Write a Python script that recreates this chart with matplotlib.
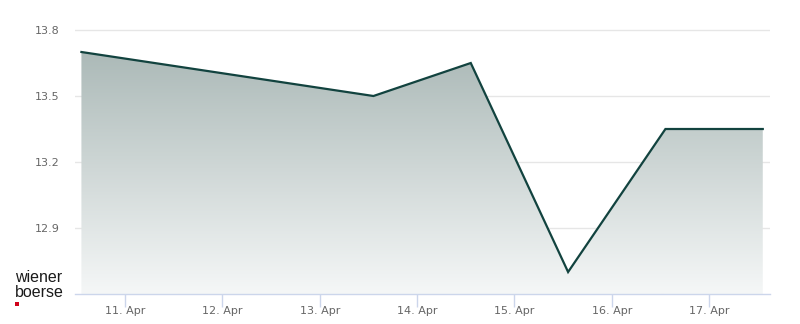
import numpy as np
import pandas as pd
import matplotlib
matplotlib.use("Agg")
import matplotlib.pyplot as plt
import matplotlib.dates as mdates
from matplotlib.patches import Polygon, Rectangle

# Data
dates = pd.to_datetime(["2024-04-10 13:15", "2024-04-13 13:15", "2024-04-14 13:15",
                        "2024-04-15 13:15", "2024-04-16 13:15", "2024-04-17 13:15"])
prices = [13.70, 13.50, 13.65, 12.70, 13.35, 13.35]
yticks = [12.9, 13.2, 13.5, 13.8]
xtick_dates = pd.date_range("2024-04-11", "2024-04-17", freq="D")
xtick_labels = [f"{d.day}. Apr" for d in xtick_dates]

W, H = 800, 324
fig = plt.figure(figsize=(W / 100, H / 100), dpi=100)
ax = fig.add_axes([75 / W, 30 / H, 695 / W, 274 / H])

x = mdates.date2num(dates)
xmin = mdates.date2num(pd.Timestamp("2024-04-10 11:40"))
xmax = mdates.date2num(pd.Timestamp("2024-04-17 15:02"))
ymin, ymax = 12.6, 13.8455
ax.set_xlim(xmin, xmax)
ax.set_ylim(ymin, ymax)

# gradient fill under line
t = np.linspace(0, 1, 256)[:, None]
top = np.array([165, 180, 178]) / 255
bot = np.array([245, 247, 247]) / 255
img = (top + (bot - top) * t).reshape(256, 1, 3)
im = ax.imshow(img, aspect="auto", extent=[xmin, xmax, ymin, 13.8], origin="upper", zorder=1)
poly_xy = [(x[0], ymin)] + list(zip(x, prices)) + [(x[-1], ymin)]
poly = Polygon(poly_xy, closed=True, facecolor="none", edgecolor="none")
ax.add_patch(poly)
im.set_clip_path(poly)

ax.plot(x, prices, color="#12433f", lw=1.6, zorder=3, solid_joinstyle="miter")

for s in ["top", "right", "left"]:
    ax.spines[s].set_visible(False)
ax.spines["bottom"].set_color("#ccd6eb")
ax.spines["bottom"].set_linewidth(1)

ax.set_yticks(yticks)
ax.set_yticklabels([f"{v:.1f}" for v in yticks])
ax.yaxis.grid(True, color="#e6e6e6", lw=1, zorder=0)
ax.tick_params(axis="y", length=0, pad=11, labelsize=8, labelcolor="#666666")
ax.set_xticks(mdates.date2num(xtick_dates))
ax.set_xticklabels(xtick_labels)
ax.tick_params(axis="x", length=9, width=1, color="#ccd6eb", pad=0, labelsize=8, labelcolor="#666666")
ax.set_axisbelow(True)

fig.text(15 / W, 1 - 282 / H, "wiener", fontsize=11.5, family="Liberation Sans", color="#1a1a1a")
fig.text(15 / W, 1 - 297 / H, "boerse", fontsize=11.5, family="Liberation Sans", color="#1a1a1a")
fig.patches.append(Rectangle((15 / W, 1 - 306 / H), 4 / W, 4 / H, transform=fig.transFigure,
                             facecolor="#d0021b", edgecolor="none"))

fig.savefig("out.png", dpi=100)
